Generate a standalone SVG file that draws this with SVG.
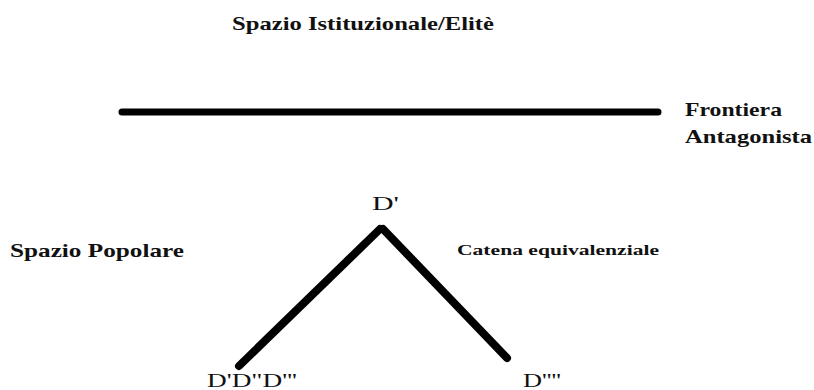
<svg xmlns="http://www.w3.org/2000/svg" width="814" height="390" viewBox="0 0 814 390">
<style>
.b{font-family:"Liberation Serif","DejaVu Serif",serif;font-weight:bold;fill:#111}
.n{font-family:"Liberation Serif","DejaVu Serif",serif;fill:#111}
.l{stroke:#000;stroke-linecap:round;fill:none}
</style>
<rect width="814" height="390" fill="#fff"/>
<g id="connectors">
<line class="l" x1="122" y1="112" x2="658" y2="112" stroke-width="7"/>
<line class="l" x1="239" y1="366" x2="380" y2="229" stroke-width="8"/>
<line class="l" x1="383" y1="229" x2="507" y2="358" stroke-width="8"/>
</g>
<g id="title"><text class="b" x="232" y="30" font-size="19" textLength="262" lengthAdjust="spacingAndGlyphs">Spazio Istituzionale/Elitè</text></g>
<g id="frontiera"><text class="b" x="685" y="116" font-size="19" textLength="97" lengthAdjust="spacingAndGlyphs">Frontiera</text><text class="b" x="685" y="143" font-size="19" textLength="127" lengthAdjust="spacingAndGlyphs">Antagonista</text></g>
<g id="popolare"><text class="b" x="10" y="257" font-size="19" textLength="174" lengthAdjust="spacingAndGlyphs">Spazio Popolare</text></g>
<g id="catena"><text class="b" x="457" y="255" font-size="15" textLength="202" lengthAdjust="spacingAndGlyphs">Catena equivalenziale</text></g>
<g id="d1"><text class="n" x="372" y="210" font-size="19" textLength="27" lengthAdjust="spacingAndGlyphs">D'</text></g>
<g id="d2"><text class="n" x="207" y="387" font-size="19" textLength="90" lengthAdjust="spacingAndGlyphs">D'D"D'''</text></g>
<g id="d3"><text class="n" x="523" y="387" font-size="19" textLength="38" lengthAdjust="spacingAndGlyphs">D''''</text></g>
</svg>
